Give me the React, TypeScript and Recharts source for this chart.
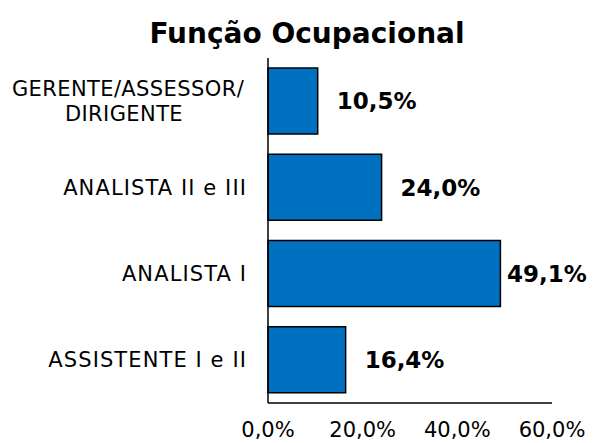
import React from "react";
import { Bar, BarChart, LabelList, XAxis, YAxis } from "recharts";

const categories = [
  "GERENTE/ASSESSOR/\nDIRIGENTE",
  "ANALISTA II e III",
  "ANALISTA I",
  "ASSISTENTE I e II",
];
const shares = [10.5, 24.0, 49.1, 16.4];
const xTicks = [0, 20, 40, 60];

const data = categories.map((c, i) => ({ name: c, value: shares[i] }));

const FONT = "'DejaVu Sans', Verdana, sans-serif";
const pct = (v: number) => v.toFixed(1).replace(".", ",") + "%";

function CategoryTick(props: any) {
  const { x, y, payload } = props;
  const lines = String(payload.value).split("\n");
  if (lines.length === 1) {
    return (
      <text x={x} y={y} dy="0.36em" textAnchor="end" fontSize={21} fill="#000" fontFamily={FONT} letterSpacing={1.1}>
        {lines[0]}
      </text>
    );
  }
  const cx = x - 119;
  return (
    <text x={cx} y={y} textAnchor="middle" fontSize={21} fill="#000" fontFamily={FONT} letterSpacing={0.4}>
      {lines.map((l, i) => (
        <tspan key={i} x={i === 0 ? cx : cx - 4} dy={i === 0 ? "-0.26em" : 25}>
          {l}
        </tspan>
      ))}
    </text>
  );
}

function ValueLabel(props: any) {
  const { x, y, width, height, value } = props;
  const left = Math.min(x + width + 19, 507);
  return (
    <text x={left} y={y + height / 2} dy="0.36em" textAnchor="start" fontSize={23} fontWeight="bold" fill="#000" fontFamily={FONT}>
      {pct(value)}
    </text>
  );
}

export default function App() {
  return (
    <div style={{ position: "absolute", left: 0, top: 0, width: 598, height: 443, background: "#fff" }}>
      <svg width={598} height={50} style={{ position: "absolute", left: 0, top: 0 }}>
        <text x={307} y={43} textAnchor="middle" fontSize={28} fontWeight="bold" fontFamily={FONT} fill="#000">
          Função Ocupacional
        </text>
      </svg>
      <BarChart
        width={598}
        height={443}
        data={data}
        layout="vertical"
        margin={{ top: 58, right: 46, bottom: 0, left: 0 }}
        barCategoryGap={10}
      >
        <XAxis
          type="number"
          domain={[0, 60]}
          ticks={xTicks}
          tickFormatter={pct}
          tickLine={false}
          tickMargin={13}
          height={40}
          axisLine={{ stroke: "#000", strokeWidth: 1.5 }}
          tick={{ fontSize: 21, fill: "#000", fontFamily: FONT }}
          interval={0}
        />
        <YAxis
          type="category"
          dataKey="name"
          width={268}
          tickLine={false}
          tickMargin={15}
          axisLine={{ stroke: "#000", strokeWidth: 1.5 }}
          tick={<CategoryTick />}
          interval={0}
        />
        <Bar dataKey="value" fill="#0070C0" stroke="#000" strokeWidth={1.5} barSize={66} isAnimationActive={false}>
          <LabelList dataKey="value" content={<ValueLabel />} />
        </Bar>
      </BarChart>
    </div>
  );
}
